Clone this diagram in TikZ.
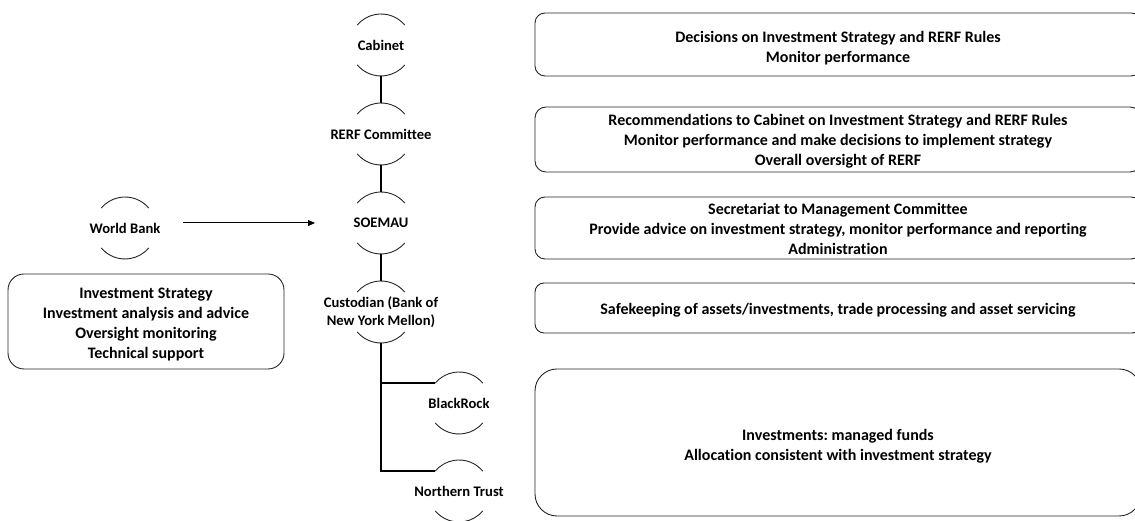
\documentclass[tikz,border=0pt]{standalone}
\usepackage{fontspec}
\setmainfont{Carlito}[RawFeature=-liga]
\usetikzlibrary{arrows.meta}
\frenchspacing

% one organisation: a fixed-size circle, its label, and the two arcs above and below
\newcommand\orgunit[4]{%
  \node[orgc] (#1) at (#2,#3) {};
  \node[orgtxt] (#1-t) at (#1) {#4};
  \draw[arcline] (#1.40) arc[start angle=40,end angle=140,radius=31pt]
                 (#1.220) arc[start angle=220,end angle=320,radius=31pt];
}

% one role box: name, centre, width, height, corner radius, text drop, text
\newcommand\rolebox[8]{%
  \node[rolefr,rounded corners=#6,minimum width=#4,minimum height=#5] (#1) at (#2,#3) {};
  \node[roletxt] (#1-t) at ([yshift=-#7]#1.center) {#8};
}

\begin{document}
\begin{tikzpicture}[x=1pt,y=1pt,
  orgc/.style={circle,minimum size=62pt,inner sep=0pt,outer sep=0pt,draw=none},
  orgtxt/.style={align=center,inner sep=0pt,font=\bfseries\fontsize{14.6}{17.5}\selectfont},
  arcline/.style={draw=black!85,line width=0.9pt},
  link/.style={draw=black,line width=1.8pt},
  rolefr/.style={draw=black!85,line width=0.9pt,inner sep=0pt},
  roletxt/.style={align=center,inner sep=0pt,font=\bfseries\fontsize{16}{19.8}\selectfont},
]
\useasboundingbox (0,0) rectangle (1135,521);
\clip (0,0) rectangle (1135,521);
\fill[white] (0,0) rectangle (1135,521);

% organisation chart
\orgunit{cab}{381}{476}{Cabinet}
\orgunit{rerf}{381}{387}{RERF Committee}
\orgunit{soe}{381}{298}{SOEMAU}
\orgunit{cust}{381}{209}{Custodian (Bank of\\New York Mellon)}
\orgunit{br}{459}{118}{BlackRock}
\orgunit{nt}{459}{30}{Northern Trust}
\orgunit{wb}{125}{293}{World Bank}

\draw[link] (cab.south) -- (rerf.north);
\draw[link] (rerf.south) -- (soe.north);
\draw[link] (soe.south) -- (cust.north);
\draw[link] (cust.south) |- (nt.140);
\draw[link] (cust.south |- br.140) -- (br.140);

\coordinate (wbout) at (183,298);
\coordinate (soein) at (315,298);
\draw[line width=1pt,-{Triangle[length=7pt,width=6pt]}] (wbout) -- (soein);

% role descriptions
\rolebox{wbroles}{146}{199.5}{276pt}{95pt}{16pt}{3pt}
  {Investment Strategy\\Investment analysis and advice\\Oversight monitoring\\Technical support}
\rolebox{r1}{838}{476.5}{606pt}{63pt}{10pt}{3.5pt}
  {Decisions on Investment Strategy and RERF Rules\\Monitor performance}
\rolebox{r2}{838}{381.5}{606pt}{65pt}{11pt}{2pt}
  {Recommendations to Cabinet on Investment Strategy and RERF Rules\\Monitor performance and make decisions to implement strategy\\Overall oversight of RERF}
\rolebox{r3}{838}{293}{606pt}{62pt}{10pt}{1pt}
  {Secretariat to Management Committee\\Provide advice on investment strategy, monitor performance and reporting\\Administration}
\rolebox{r4}{838}{213}{606pt}{50pt}{9pt}{2.5pt}
  {Safekeeping of assets/investments, trade processing and asset servicing}
\rolebox{r5}{838}{78.5}{606pt}{147pt}{22pt}{3.5pt}
  {Investments: managed funds\\Allocation consistent with investment strategy}
\end{tikzpicture}
\end{document}
